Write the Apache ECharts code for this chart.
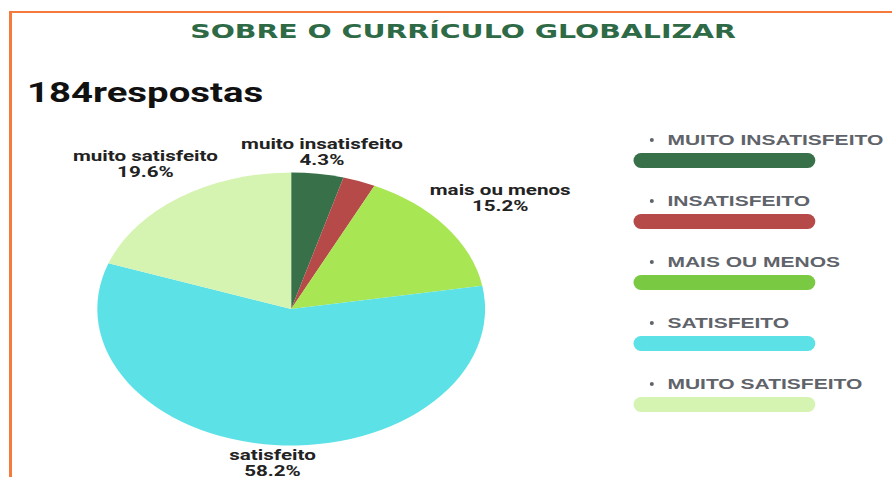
<!DOCTYPE html>
<html>
<head>
<meta charset="utf-8">
<script src="https://cdn.jsdelivr.net/npm/echarts@6/dist/echarts.min.js"></script>
<style>
  html, body { margin: 0; padding: 0; background: #fff; overflow: hidden; }
  #frame {
    position: absolute; left: 9px; top: 11px; width: 1000px; height: 600px;
    border-top: 2px solid #f47b3c; border-left: 3px solid #f47b3c;
  }
  /* the reference is stretched sideways, so the chart is drawn narrow and widened */
  #wrap {
    position: absolute; left: 0; top: 0; width: 628px; height: 477px;
    transform: scaleX(1.4204); transform-origin: 0 0;
  }
  #main { width: 628px; height: 477px; }
</style>
</head>
<body>
<div id="frame"></div>
<div id="wrap"><div id="main"></div></div>
<script>
var categories = ['muito insatisfeito', 'insatisfeito', 'mais ou menos', 'satisfeito', 'muito satisfeito'];
var counts = [8, 5, 28, 107, 36];
var hiddenLabels = ['insatisfeito'];
var titleText = 'SOBRE O CURRÍCULO GLOBALIZAR';
var subtitleText = '184respostas';

var sliceColors = ['#377049', '#b54a48', '#a8e653', '#5ce1e6', '#d5f4b2'];
var legendColors = ['#377049', '#b54a48', '#7ac943', '#5ce1e6', '#d5f4b2'];

var CX = 205, CY = 309, R = 136.5;
var total = counts.reduce(function (a, b) { return a + b; }, 0);

var chart = echarts.init(document.getElementById('main'), null, { renderer: 'svg' });

var option = {
  animation: false,
  title: [
    {
      text: titleText,
      left: 326,
      textAlign: 'center',
      top: 21,
      padding: 0,
      textStyle: { fontFamily: 'DejaVu Sans', fontWeight: 'bold', fontSize: 20, color: '#2d6a45' }
    },
    {
      text: subtitleText,
      left: 19,
      top: 79,
      padding: 0,
      textStyle: { fontFamily: 'Roboto', fontWeight: 'bold', fontSize: 27, color: '#111' }
    }
  ],
  legend: [
    {
      // coloured bars
      orient: 'vertical',
      left: 446,
      top: 153,
      itemWidth: 128,
      itemHeight: 15,
      itemGap: 46,
      padding: 0,
      selectedMode: false,
      icon: 'path://M5.3,0 H122.7 A5.3,7.5 0 0 1 122.7,15 H5.3 A5.3,7.5 0 0 1 5.3,0 Z',
      formatter: function () { return ''; },
      data: categories.map(function (c, i) {
        return { name: c, itemStyle: { color: legendColors[i] } };
      })
    },
    {
      // bullet + name above each bar
      orient: 'vertical',
      left: 457.5,
      top: 132.5,
      itemWidth: 12,
      itemHeight: 4,
      itemGap: 46,
      padding: 0,
      icon: 'path://M0,2 A1.4,2 0 1 1 2.8,2 A1.4,2 0 1 1 0,2 Z',
      textStyle: { fontFamily: 'Liberation Sans', fontWeight: 'bold', fontSize: 14.8, lineHeight: 15, color: '#5f636a' },
      formatter: function (name) { return name.toUpperCase(); },
      data: categories.map(function (c) {
        return { name: c, itemStyle: { color: '#5f636a' } };
      })
    }
  ],
  series: [
    {
      type: 'pie',
      center: [CX, CY],
      radius: R,
      startAngle: 90,
      clockwise: true,
      percentPrecision: 1,
      emphasis: { disabled: true },
      label: {
        show: true,
        position: 'outside',
        formatter: '{b}\n{d}%',
        overflow: 'none',
        fontFamily: 'Roboto',
        fontWeight: 'bold',
        fontSize: 14.5,
        lineHeight: 16,
        color: '#222'
      },
      labelLine: { show: false },
      labelLayout: function (p) {
        var i = p.dataIndex;
        var before = 0;
        for (var j = 0; j < i; j++) before += counts[j];
        var a = (before + counts[i] / 2) / total * 2 * Math.PI;
        var sx = Math.sin(a), sy = -Math.cos(a);
        var w = p.labelRect.width, h = p.labelRect.height;
        var d = R - 1 + Math.abs(sx) * w / 2 + Math.abs(sy) * h / 2;
        return { x: CX + d * sx, y: CY + d * sy, align: 'center', verticalAlign: 'middle' };
      },
      data: categories.map(function (c, i) {
        return {
          name: c,
          value: counts[i],
          itemStyle: { color: sliceColors[i] },
          label: { show: hiddenLabels.indexOf(c) < 0 }
        };
      })
    }
  ]
};

chart.setOption(option);
</script>
</body>
</html>
